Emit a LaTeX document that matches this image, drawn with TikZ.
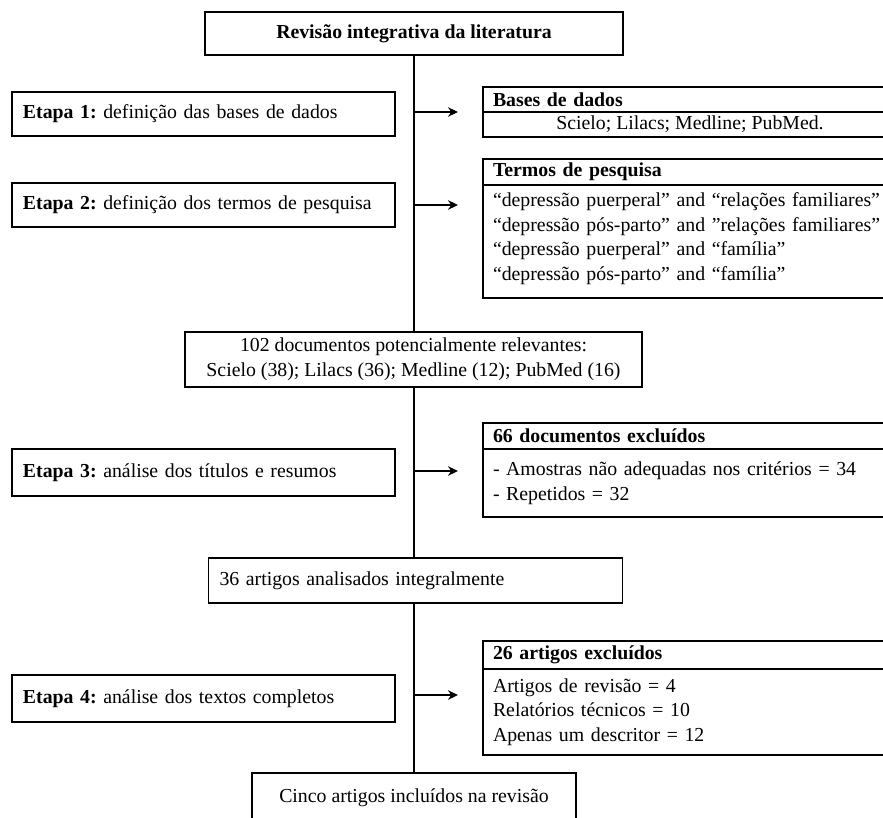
\documentclass[tikz,border=0pt]{standalone}
\usepackage{fontspec}
\setmainfont{Liberation Serif}
\usetikzlibrary{arrows.meta}
\newcommand\fs{\frenchspacing\fontsize{19.8}{24.6}\selectfont}
\begin{document}
\begin{tikzpicture}[x=1pt,y=-1pt,
  box/.style={draw, line width=1.5pt, inner sep=0pt, outer sep=0pt, font=\fs},
  lbox/.style={box, align=left, inner xsep=10pt, text width=#1},
  cbox/.style={box, align=center},
  conn/.style={line width=1.5pt},
  arr/.style={line width=1.5pt, -{Stealth[length=10pt,width=9.5pt]}}]
\useasboundingbox (0,0) rectangle (883,818);
\clip (0,0) rectangle (883,818);
\fill[white] (0,0) rectangle (883,818);
% main column
\node[cbox, minimum width=418, minimum height=43] (title) at (414,33.5) {\textbf{Revisão integrativa da literatura}};
\node[cbox, minimum width=457, minimum height=55] (n102) at (413.5,359.5) {102 documentos potencialmente relevantes:\\Scielo (38); Lilacs (36); Medline (12); PubMed (16)};
\node[lbox=392pt, minimum height=45, inner xsep=11pt] (n36) at (415.5,580.5) {36 artigos analisados integralmente};
\node[cbox, minimum width=324, minimum height=50] (cinco) at (414,798) {Cinco artigos incluídos na revisão};
% stages
\node[lbox=361pt, minimum height=44, inner xsep=11pt] (e1) at (203.5,114) {\textbf{Etapa 1:} definição das bases de dados};
\node[lbox=361pt, minimum height=44, inner xsep=11pt] (e2) at (203.5,205) {\textbf{Etapa 2:} definição dos termos de pesquisa};
\node[lbox=361pt, minimum height=47, inner xsep=11pt] (e3) at (203.5,472.5) {\textbf{Etapa 3:} análise dos títulos e resumos};
\node[lbox=361pt, minimum height=47, inner xsep=11pt] (e4) at (203.5,698.5) {\textbf{Etapa 4:} análise dos textos completos};
% right boxes
\node[lbox=394pt, minimum height=25] (bh) at (690,99.5) {\textbf{Bases de dados}};
\node[cbox, minimum width=414, minimum height=25] (bb) at (690,124.5) {Scielo; Lilacs; Medline; PubMed.};
\node[lbox=394pt, minimum height=26] (th) at (690,172) {\textbf{Termos de pesquisa}};
\node[lbox=394pt, minimum height=113] (tb) at (690,241.5) {“depressão puerperal” and “relações familiares”\\“depressão pós-parto” and ”relações familiares”\\“depressão puerperal” and “família”\\“depressão pós-parto” and “família”\rule[-10pt]{0pt}{0pt}};
\node[lbox=394pt, minimum height=26] (xh) at (690,436) {\textbf{66 documentos excluídos}};
\node[lbox=394pt, minimum height=68] (xb) at (690,483) {- Amostras não adequadas nos critérios = 34\\- Repetidos = 32};
\node[lbox=394pt, minimum height=28] (yh) at (690,655) {\textbf{26 artigos excluídos}};
\node[lbox=394pt, minimum height=86] (yb) at (690,712) {Artigos de revisão = 4\\Relatórios técnicos = 10\\Apenas um descritor = 12};
% connectors
\coordinate (ax) at (458,0);
\draw[conn] (title.south) -- (title.south |- n102.north);
\draw[conn] (n102.south -| title.south) -- (title.south |- n36.north);
\draw[conn] (n36.south -| title.south) -- (title.south |- cinco.north);
\draw[arr] (title.south |- 0,112) coordinate (s1) -- (s1 -| ax);
\draw[arr] (title.south |- e2.east) -- (e2.east -| ax);
\draw[arr] (title.south |- 0,471) coordinate (s3) -- (s3 -| ax);
\draw[arr] (title.south |- 0,695) coordinate (s4) -- (s4 -| ax);
\end{tikzpicture}
\end{document}
